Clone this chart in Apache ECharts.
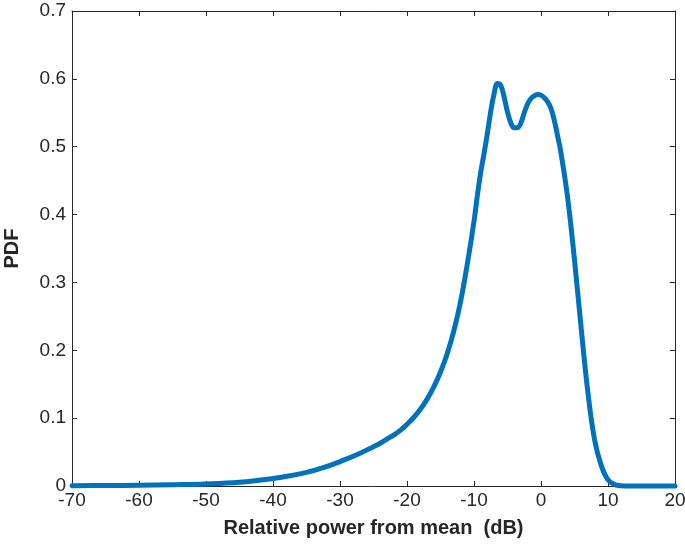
<!DOCTYPE html>
<html>
<head>
<meta charset="utf-8">
<script src="https://cdn.jsdelivr.net/npm/echarts@6/dist/echarts.min.js"></script>
<style>
  html, body { margin: 0; padding: 0; background: #fff; }
  #chart { width: 685px; height: 549px; }
</style>
</head>
<body>
<div id="chart"></div>
<script>
// relative power (dB) and PDF
const powerDb = [
  -70, -65, -60, -55, -50, -45, -40, -37.5, -35, -32.5, -30, -27.5,
  -25, -24, -23, -22, -21, -20, -19, -18, -17, -16, -15, -14, -13, -12, -11,
  -10, -9.5, -9, -8.5, -8, -7.5, -7, -6.5, -6, -5.5, -5, -4.5, -4, -3.5, -3, -2.5,
  -2, -1.5, -1, -0.5, 0, 0.5, 1, 1.5, 2, 2.5, 3,
  4, 5, 6, 7, 8, 9, 10, 11, 12, 13, 14, 17, 20
]
const pdf = [
  0.0004, 0.0007, 0.0012, 0.002, 0.003, 0.0055, 0.011, 0.015, 0.02, 0.027, 0.036, 0.046,
  0.058, 0.063, 0.069, 0.075, 0.082, 0.091, 0.101, 0.113, 0.128, 0.146, 0.168, 0.195, 0.229, 0.272, 0.327,
  0.39, 0.428, 0.462, 0.49, 0.52, 0.552, 0.578, 0.593, 0.59, 0.573, 0.551, 0.535, 0.528, 0.528, 0.535, 0.55,
  0.563, 0.571, 0.575, 0.577, 0.576, 0.572, 0.566, 0.556, 0.538, 0.515, 0.49,
  0.423, 0.333, 0.232, 0.138, 0.068, 0.03, 0.009, 0.002, 0.0003, 0, 0, 0, 0
]

const xTicks = { min: -70, max: 20, interval: 10 }
const yTicks = { min: 0, max: 0.7, interval: 0.1 }

const axisColor = '#262626'
const font = "'Liberation Sans', Arial, Helvetica, sans-serif"

const chart = echarts.init(document.getElementById('chart'))

const baseAxis = {
  type: 'value',
  splitLine: { show: false },
  axisLine: { show: true, onZero: false, lineStyle: { color: axisColor, width: 1 } },
  axisTick: { show: true, inside: true, length: 5, lineStyle: { color: axisColor } }
}

chart.setOption({
  animation: false,
  backgroundColor: '#fff',
  grid: { left: 72, right: 10, top: 11, bottom: 63, containLabel: false, outerBoundsMode: 'none' },
  xAxis: [
    {
      ...baseAxis,
      ...xTicks,
      position: 'bottom',
      name: 'Relative power from mean  (dB)',
      nameLocation: 'middle',
      nameGap: 32,
      nameTextStyle: { color: axisColor, fontFamily: font, fontSize: 20, fontWeight: 'bold' },
      axisLabel: { color: axisColor, fontFamily: font, fontSize: 19, margin: 5 }
    },
    {
      ...baseAxis,
      ...xTicks,
      position: 'top',
      axisLabel: { show: false }
    }
  ],
  yAxis: [
    {
      ...baseAxis,
      ...yTicks,
      position: 'left',
      name: 'PDF',
      nameLocation: 'middle',
      nameGap: 50,
      nameTextStyle: { color: axisColor, fontFamily: font, fontSize: 20, fontWeight: 'bold' },
      axisLabel: {
        color: axisColor, fontFamily: font, fontSize: 19, margin: 6,
        formatter: v => (v === 0 ? '0' : v.toFixed(1))
      }
    },
    {
      ...baseAxis,
      ...yTicks,
      position: 'right',
      axisLabel: { show: false }
    }
  ],
  series: [
    {
      type: 'line',
      data: powerDb.map((x, i) => [x, pdf[i]]),
      showSymbol: false,
      smooth: 0.4,
      clip: false,
      lineStyle: { color: '#0072BD', width: 5, cap: 'round', join: 'round' }
    }
  ]
})
</script>
</body>
</html>
